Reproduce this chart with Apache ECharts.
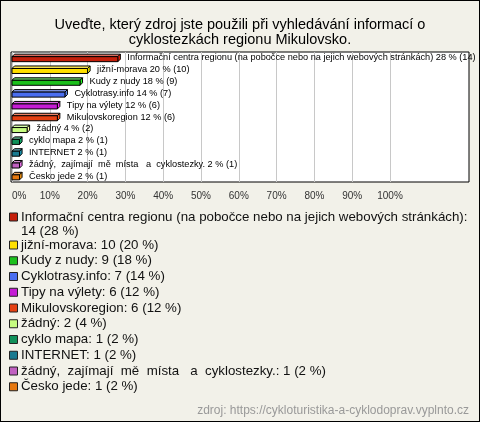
<!DOCTYPE html>
<html>
<head>
<meta charset="utf-8">
<script src="https://cdn.jsdelivr.net/npm/echarts@6/dist/echarts.min.js"></script>
<style>
  html, body { margin: 0; padding: 0; }
  #chart {
    width: 480px;
    height: 422px;
    box-sizing: border-box;
    border: 1px solid #000;
    background: #f2f1e9;
  }
</style>
</head>
<body>
<div id="chart"></div>
<script>
const categories = [
  'Informační centra regionu (na pobočce nebo na jejich webových stránkách)',
  'jižní-morava',
  'Kudy z nudy',
  'Cyklotrasy.info',
  'Tipy na výlety',
  'Mikulovskoregion',
  'žádný',
  'cyklo mapa',
  'INTERNET',
  'žádný,  zajímají  mě  místa   a  cyklostezky.',
  'Česko jede'
]
const counts = [14, 10, 9, 7, 6, 6, 2, 1, 1, 1, 1]
const percents = [28, 20, 18, 14, 12, 12, 4, 2, 2, 2, 2]
const tickValues = [0, 10, 20, 30, 40, 50, 60, 70, 80, 90, 100]

const colors = ['#c41e0a', '#ffe000', '#1cc01c', '#4a6ef0', '#c41cd4', '#e44012',
                '#c6fc80', '#10905a', '#1a7a90', '#c060c0', '#e67810']

const chart = echarts.init(document.getElementById('chart'))

// legend drawn as graphic rows (first item wraps to two lines)
const legendItems = []
let ly = 215.5
categories.forEach((name, i) => {
  const lines = i === 0
    ? [name + ':', counts[i] + ' (' + percents[i] + ' %)']
    : [name + ': ' + counts[i] + ' (' + percents[i] + ' %)']
  legendItems.push({
    type: 'rect', left: 8, top: ly - 4,
    shape: { width: 8, height: 8 },
    style: { fill: colors[i], stroke: '#222', lineWidth: 1 }
  })
  lines.forEach((t, k) => {
    legendItems.push({
      type: 'text', left: 20, top: ly - 6 + k * 14,
      style: { text: t, fill: '#111', font: '13.3px "Liberation Sans", Arial, sans-serif' }
    })
  })
  ly += i === 0 ? 28 : 15.75
})

const depth = 2.5
const frontH = 5

const option = {
  animation: false,
  title: {
    text: 'Uveďte, který zdroj jste použili při vyhledávání informací o\ncyklostezkách regionu Mikulovsko.',
    left: 'center', top: 11,
    textStyle: { fontFamily: 'Liberation Sans', fontSize: 14.5, fontWeight: 'normal', color: '#000', lineHeight: 15 }
  },
  grid: [
    { left: 10, right: 10, top: 51, bottom: 239, show: true, backgroundColor: '#fff', borderColor: '#000', borderWidth: 1 },
    { left: 11, right: 89, top: 51, bottom: 239 }
  ],
  xAxis: [
    { gridIndex: 0, show: false, type: 'value' },
    {
      gridIndex: 1, type: 'value', min: 0, max: 100, interval: 10,
      axisLine: { show: false }, axisTick: { show: false },
      splitLine: { show: true, lineStyle: { color: '#c8c8c8', width: 1 } },
      axisLabel: {
        margin: 9, fontSize: 10, color: '#333', fontFamily: 'Liberation Sans',
        alignMinLabel: 'left',
        formatter: v => tickValues.includes(v) ? v + '%' : ''
      }
    }
  ],
  yAxis: [
    { gridIndex: 0, show: false, type: 'value' },
    {
      gridIndex: 1, type: 'category', data: categories, inverse: true,
      axisLine: { show: false }, axisTick: { show: false }, axisLabel: { show: false },
      splitLine: { show: false }
    }
  ],
  series: [{
    type: 'custom',
    xAxisIndex: 1, yAxisIndex: 1,
    clip: false,
    data: percents.map((p, i) => [p, i]),
    renderItem: (params, api) => {
      const i = params.dataIndex
      const v = api.value(0)
      const p0 = api.coord([0, i])
      const p1 = api.coord([v, i])
      const x0 = p0[0], x1 = p1[0], cy = p0[1]
      const top = cy - (frontH + depth) / 2 + depth
      const bot = top + frontH
      const c = colors[i]
      const line = { stroke: '#000', lineWidth: 1 }
      return {
        type: 'group',
        children: [
          { type: 'polygon', shape: { points: [[x0, top], [x0 + depth, top - depth], [x1 + depth, top - depth], [x1, top]] },
            style: Object.assign({ fill: echarts.color.lift(c, 0.35) }, line) },
          { type: 'polygon', shape: { points: [[x1, top], [x1 + depth, top - depth], [x1 + depth, bot - depth], [x1, bot]] },
            style: Object.assign({ fill: echarts.color.lift(c, -0.3) }, line) },
          { type: 'rect', shape: { x: x0, y: top, width: x1 - x0, height: frontH },
            style: Object.assign({ fill: c }, line) },
          { type: 'text', x: x1 + depth + 7, y: cy,
            style: {
              text: categories[i] + ' ' + percents[i] + ' % (' + counts[i] + ')',
              fill: '#000', font: '9.2px "Liberation Sans", Arial, sans-serif',
              verticalAlign: 'middle', align: 'left'
            } }
        ]
      }
    }
  }],
  graphic: [
    ...legendItems,
    {
      type: 'text', right: 10, top: 404,
      style: { text: 'zdroj: https://cykloturistika-a-cyklodoprav.vyplnto.cz', fill: '#999',
               font: '12px "Liberation Sans", Arial, sans-serif' }
    }
  ]
}

chart.setOption(option)
window.addEventListener('resize', () => {
  chart.resize()
})
</script>
</body>
</html>
